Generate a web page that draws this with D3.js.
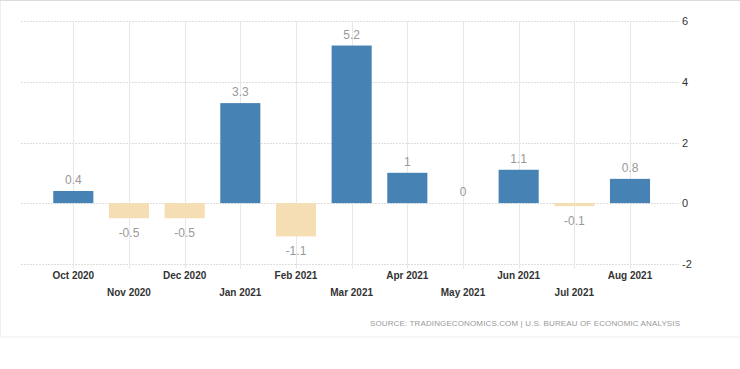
<!DOCTYPE html>
<html><head><meta charset="utf-8">
<script src="https://cdn.jsdelivr.net/npm/d3@7"></script>
<style>body{margin:0;background:#fff}svg{display:block}</style>
</head><body>
<svg id="c" width="740" height="369"></svg>
<script>
const months = ["Oct 2020","Nov 2020","Dec 2020","Jan 2021","Feb 2021","Mar 2021","Apr 2021","May 2021","Jun 2021","Jul 2021","Aug 2021"];
const values = [0.4,-0.5,-0.5,3.3,-1.1,5.2,1,0,1.1,-0.1,0.8];
const valueLabels = ["0.4","-0.5","-0.5","3.3","-1.1","5.2","1","0","1.1","-0.1","0.8"];
const yTicks = [-2,0,2,4,6];
const sourceText = "SOURCE: TRADINGECONOMICS.COM | U.S. BUREAU OF ECONOMIC ANALYSIS";

const svg = d3.select("#c");
// frame
svg.append("rect").attr("x",0.5).attr("y",0.5).attr("width",745).attr("height",336.5)
  .attr("fill","none").attr("stroke","#eeeeee");
svg.append("line").attr("x1",0).attr("x2",740).attr("y1",0.5).attr("y2",0.5).attr("stroke","#dcdcdc");

const x = d3.scalePoint().domain(months).range([73.3,630]);
const y = d3.scaleLinear().domain([-2,6]).range([263.7,21.3]);
const barW = x.step()*0.72;

// horizontal gridlines
svg.append("g").selectAll("line").data(yTicks).join("line")
  .attr("x1",21).attr("x2",679).attr("y1",d=>Math.round(y(d))+0.5).attr("y2",d=>Math.round(y(d))+0.5)
  .attr("stroke","#dedede").attr("stroke-dasharray","2,1");
// vertical gridlines
svg.append("g").selectAll("line").data(months).join("line")
  .attr("x1",d=>Math.round(x(d))+0.5).attr("x2",d=>Math.round(x(d))+0.5)
  .attr("y1",y(6)).attr("y2",y(-2)+5)
  .attr("stroke","#e8e8e8");

// bars
svg.append("g").selectAll("rect").data(values).join("rect")
  .attr("x",(d,i)=>x(months[i])-barW/2)
  .attr("width",barW)
  .attr("y",d=>y(Math.max(0,d)))
  .attr("height",d=>Math.abs(y(d)-y(0)))
  .attr("fill",d=>d>=0?"#4682b4":"#f5deb3");

// value labels
svg.append("g").selectAll("text").data(values).join("text")
  .attr("x",(d,i)=>x(months[i]))
  .attr("y",d=>d>=0?y(d)-7:y(d)+19)
  .attr("text-anchor","middle")
  .attr("font-family","Liberation Sans, Arial, sans-serif")
  .attr("font-size",12).attr("fill","#999")
  .text((d,i)=>valueLabels[i]);

// y axis labels
svg.append("g").selectAll("text").data(yTicks).join("text")
  .attr("x",682).attr("y",d=>y(d)+4)
  .attr("font-family","Liberation Sans, Arial, sans-serif")
  .attr("font-size",11).attr("fill","#333")
  .text(d=>d);

// x axis labels
svg.append("g").selectAll("text").data(months).join("text")
  .attr("x",d=>x(d)).attr("y",(d,i)=>i%2===0?279:296)
  .attr("text-anchor","middle")
  .attr("font-family","Liberation Sans, Arial, sans-serif")
  .attr("font-size",10).attr("font-weight","bold").attr("fill","#333")
  .text(d=>d);

// source
svg.append("text").attr("x",370).attr("y",326)
  .attr("font-family","Liberation Sans, Arial, sans-serif")
  .attr("font-size",8).attr("fill","#999")
  .attr("textLength",310).attr("lengthAdjust","spacing")
  .text(sourceText);
</script>
</body></html>
